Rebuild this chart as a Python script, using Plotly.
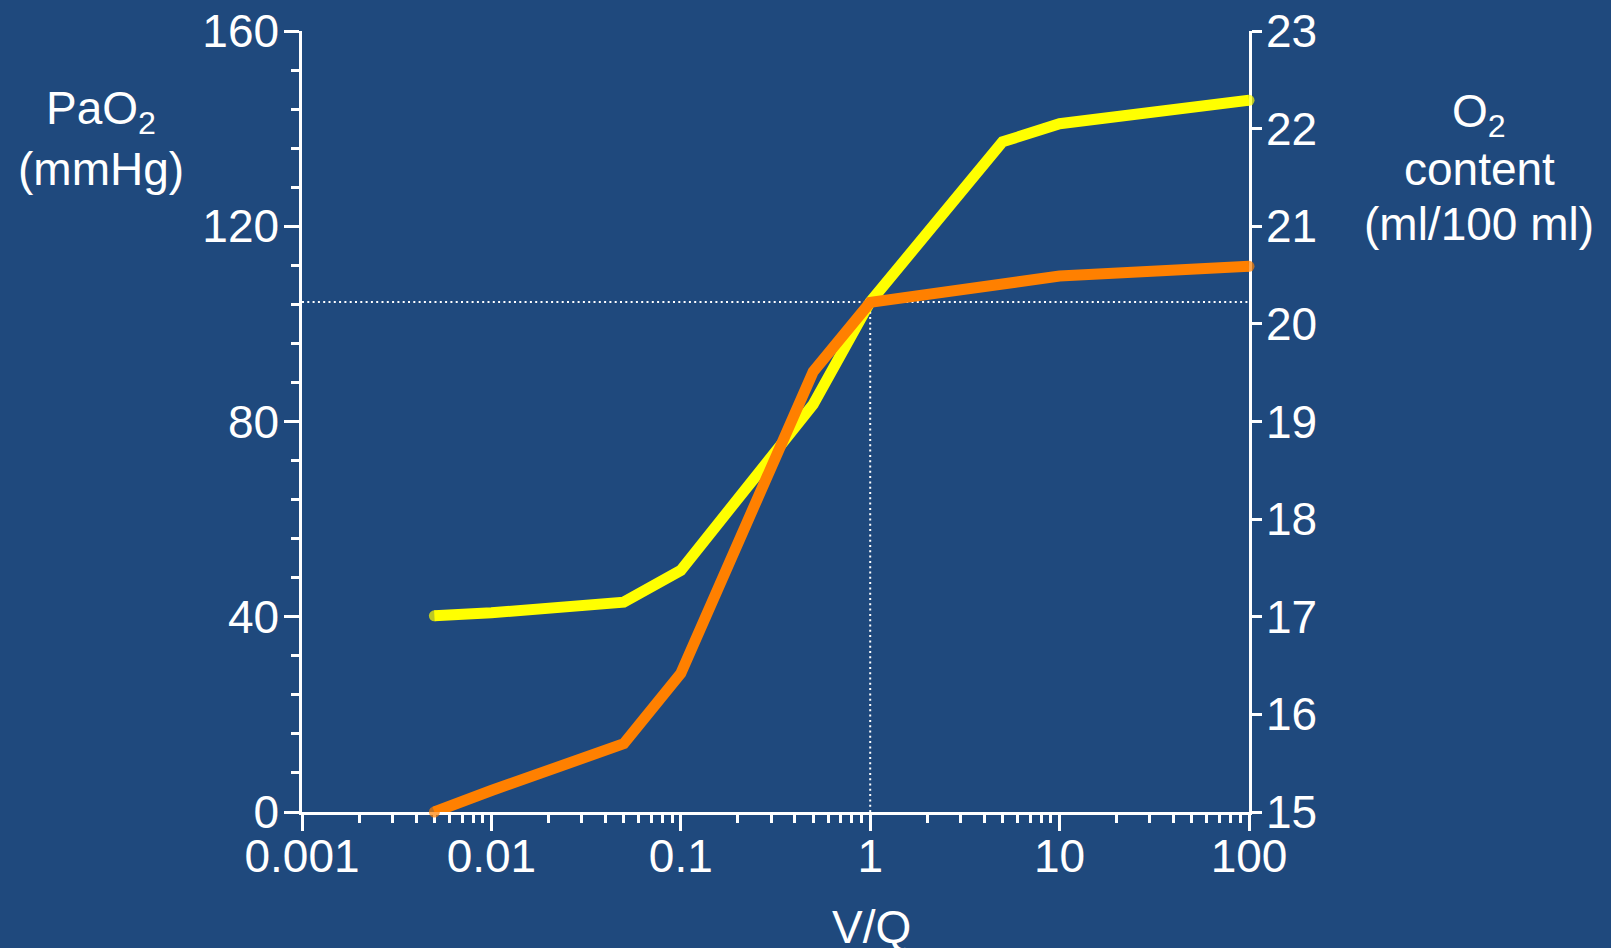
import plotly.graph_objects as go

# Ventilation/perfusion ratio and resulting blood gas values
vq_pao2 = [0.005, 0.01, 0.05, 0.1, 0.5, 1, 5, 10, 100]
pao2_mmhg = [40.2, 40.8, 43.0, 49.5, 83.5, 104.5, 137.3, 141.0, 145.8]

vq_content = [0.005, 0.01, 0.05, 0.1, 0.5, 1, 10, 100]
o2_content = [15.0, 15.22, 15.70, 16.42, 19.51, 20.22, 20.49, 20.59]

# Reference point: V/Q = 1
vq_ref = 1
pao2_ref = 104.5

x_ticks = [0.001, 0.01, 0.1, 1, 10, 100]
x_tick_text = ["0.001", "0.01", "0.1", "1", "10", "100"]
x_minor = [m * 10.0 ** e for e in range(-3, 2) for m in range(2, 10)]
left_ticks = [0, 40, 80, 120, 160]
right_ticks = [15, 16, 17, 18, 19, 20, 21, 22, 23]

BG = "#1F497D"
FONT = "Liberation Sans, Arial, sans-serif"
FS = 46
YELLOW = "#FFFF00"
ORANGE = "#FF8000"

fig = go.Figure()

# dotted guide lines through the V/Q = 1 point
fig.add_trace(go.Scatter(
    x=[x_ticks[0], x_ticks[-1]], y=[pao2_ref, pao2_ref], mode="lines",
    line=dict(color="white", width=2, dash="2px,3.3px"), hoverinfo="skip",
))
fig.add_trace(go.Scatter(
    x=[vq_ref, vq_ref], y=[0, pao2_ref], mode="lines",
    line=dict(color="white", width=2, dash="2px,3.3px"), hoverinfo="skip",
))

def end_sizes(n, s):
    return [s] + [0] * (n - 2) + [s]

LW = 11
fig.add_trace(go.Scatter(
    x=vq_pao2, y=pao2_mmhg, mode="lines+markers",
    line=dict(color=YELLOW, width=LW),
    marker=dict(color=YELLOW, size=end_sizes(len(vq_pao2), LW), line=dict(width=0)),
    cliponaxis=False, name="PaO2",
))
fig.add_trace(go.Scatter(
    x=vq_content, y=o2_content, yaxis="y2", mode="lines+markers",
    line=dict(color=ORANGE, width=LW),
    marker=dict(color=ORANGE, size=end_sizes(len(vq_content), LW), line=dict(width=0)),
    cliponaxis=False, name="O2 content",
))

axis_common = dict(
    showline=True, linecolor="white", linewidth=2.5,
    ticks="outside", tickcolor="white", tickwidth=2.5,
    showgrid=False, zeroline=False, layer="below traces",
    automargin=False,
    tickfont=dict(family=FONT, size=FS, color="white"),
)

W, H = 1611, 948
L, R, T, B = 302, 1249, 31, 812

fig.update_layout(
    width=W, height=H,
    margin=dict(l=L, r=W - R, t=T, b=H - B, pad=0, autoexpand=False),
    paper_bgcolor=BG, plot_bgcolor=BG,
    showlegend=False,
    font=dict(family=FONT, size=FS, color="white"),
    xaxis=dict(
        type="log", range=[-3, 2], tickmode="array",
        tickvals=x_ticks, ticktext=x_tick_text, ticklen=16,
        ticklabelstandoff=-14,
        minor=dict(tickmode="array", tickvals=x_minor, ticks="outside",
                   ticklen=8, tickcolor="white", tickwidth=2.5),
        **axis_common,
    ),
    yaxis=dict(
        range=[0, 160], tickmode="array", tickvals=left_ticks, ticklen=15,
        ticklabelstandoff=-4,
        minor=dict(dtick=8, ticks="outside", ticklen=8,
                   tickcolor="white", tickwidth=2.5),
        **axis_common,
    ),
    yaxis2=dict(
        range=[15, 23], tickmode="array", tickvals=right_ticks, ticklen=10,
        ticklabelstandoff=-5,
        overlaying="y", side="right",
        **axis_common,
    ),
)

ph = B - T

def py(pix):
    return (B - pix) / ph

def px(pix):
    return (pix - L) / (R - L)

labels = [
    ("PaO<sub>2</sub>", 101, 112),
    ("(mmHg)", 101, 169),
    ("O<sub>2</sub>", 1479, 114),
    ("content", 1479, 169),
    ("(ml/100 ml)", 1479, 224),
    ("V/Q", 871, 927),
]
for text, xp, yp in labels:
    fig.add_annotation(
        text=text, xref="paper", yref="paper", x=px(xp), y=py(yp),
        xanchor="center", yanchor="middle", showarrow=False,
        font=dict(family=FONT, size=FS, color="white"),
    )

fig.write_html("out.html")
